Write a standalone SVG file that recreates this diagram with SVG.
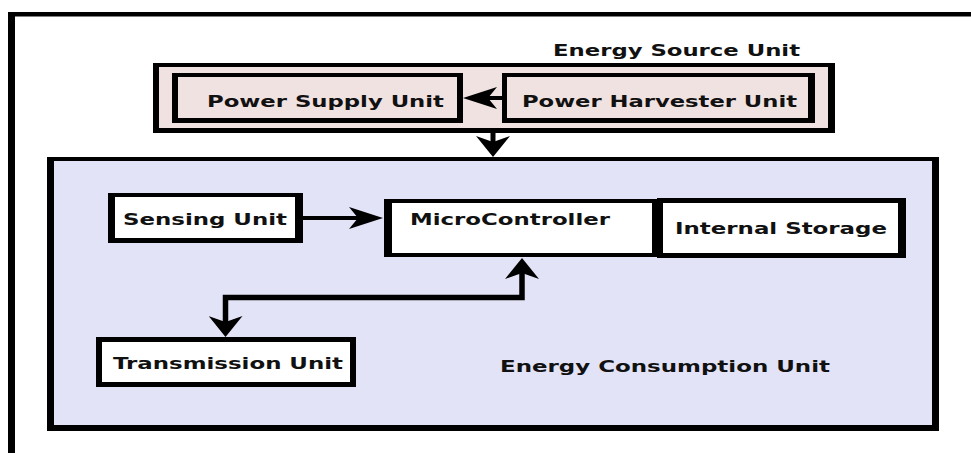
<svg xmlns="http://www.w3.org/2000/svg" width="971" height="453" viewBox="0 0 971 453">
<style>
.b{fill:#000}
.pk{fill:#f1e2e2}
.lv{fill:#e3e3f7}
.wh{fill:#fff}
.t{font-family:"DejaVu Sans","Liberation Sans",sans-serif;font-weight:bold;font-size:16px;fill:#111}
.c{fill:none;stroke:#000;stroke-linejoin:miter}
</style>
<defs>
<marker id="ah" markerUnits="userSpaceOnUse" viewBox="0 0 34 22" markerWidth="34" markerHeight="22" refX="24" refY="11" orient="auto">
<path d="M34,11 L0,0 L9,11 L0,22 Z" fill="#000"/>
</marker>
<marker id="av" markerUnits="userSpaceOnUse" viewBox="0 0 21 34" markerWidth="21" markerHeight="34" refX="11" refY="17" orient="auto-start-reverse">
<path d="M21,17 L0,0 L6,17 L0,34 Z" fill="#000"/>
</marker>
</defs>
<rect width="971" height="453" fill="#fff"/>
<g id="frame">
<rect class="b" x="8" y="12" width="7" height="441"/>
<rect class="b" x="8" y="12" width="963" height="4.5"/>
</g>
<g id="energy-source-unit">
<rect class="b" x="153" y="63" width="682" height="70"/>
<rect class="pk" x="159" y="67" width="669" height="61"/>
<text class="t" x="553" y="56" textLength="247" lengthAdjust="spacingAndGlyphs">Energy Source Unit</text>
</g>
<g id="power-supply-unit">
<rect class="b" x="172" y="73" width="291" height="50"/>
<rect class="pk" x="178" y="77" width="279" height="41"/>
<text class="t" x="207" y="107" textLength="237" lengthAdjust="spacingAndGlyphs">Power Supply Unit</text>
</g>
<g id="power-harvester-unit">
<rect class="b" x="502" y="73" width="313" height="50"/>
<rect class="pk" x="507" y="77" width="301" height="41"/>
<text class="t" x="522" y="107" textLength="275" lengthAdjust="spacingAndGlyphs">Power Harvester Unit</text>
</g>
<g id="energy-consumption-unit">
<rect class="b" x="47" y="157" width="892" height="274"/>
<rect class="lv" x="54" y="161" width="878" height="264"/>
<text class="t" x="500" y="372" textLength="330" lengthAdjust="spacingAndGlyphs">Energy Consumption Unit</text>
</g>
<g id="sensing-unit">
<rect class="b" x="108" y="193" width="195" height="50"/>
<rect class="wh" x="115" y="197" width="180" height="41"/>
<text class="t" x="123" y="225" textLength="164" lengthAdjust="spacingAndGlyphs">Sensing Unit</text>
</g>
<g id="microcontroller">
<rect class="b" x="384" y="199" width="274" height="58"/>
<rect class="wh" x="392" y="203" width="260" height="50"/>
<text class="t" x="410" y="225" textLength="200" lengthAdjust="spacingAndGlyphs">MicroController</text>
</g>
<g id="internal-storage">
<rect class="b" x="657" y="198" width="249" height="60"/>
<rect class="wh" x="663" y="203" width="235" height="50"/>
<text class="t" x="675" y="234" textLength="212" lengthAdjust="spacingAndGlyphs">Internal Storage</text>
</g>
<g id="transmission-unit">
<rect class="b" x="96" y="337" width="260" height="50"/>
<rect class="wh" x="102" y="342" width="248" height="40"/>
<text class="t" x="113" y="369" textLength="230" lengthAdjust="spacingAndGlyphs">Transmission Unit</text>
</g>
<g id="connectors">
<path class="c" stroke-width="4" d="M502,98 H473" marker-end="url(#ah)"/>
<path class="c" stroke-width="5" d="M493,133 V147" marker-end="url(#av)"/>
<path class="c" stroke-width="4" d="M303,218 H373" marker-end="url(#ah)"/>
<path class="c" stroke-width="5.5" d="M522,268 V297.5 H225.5 V327" marker-start="url(#av)" marker-end="url(#av)"/>
</g>
</svg>
